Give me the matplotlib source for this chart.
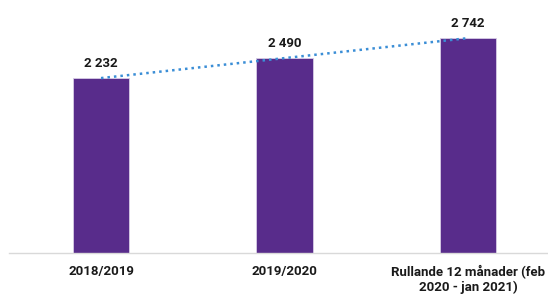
import matplotlib.pyplot as plt
import numpy as np

categories = ['2018/2019', '2019/2020', 'Rullande 12 månader (feb\n2020 - jan 2021)']
values = [2232, 2490, 2742]
value_labels = ['2 232', '2 490', '2 742']

plt.rcParams['font.family'] = ['Roboto', 'DejaVu Sans']

W, H = 548, 296
fig = plt.figure(figsize=(W / 100, H / 100), dpi=100)
# axes runs a bit past the right edge, like the cropped original
ax = fig.add_axes([9.25 / W, (H - 253) / H, 550.5 / W, (253 - 18) / H])

x = np.arange(len(categories))
ax.bar(x, values, width=0.31, color='#582C8B', edgecolor='#d8cce6', linewidth=0.6, zorder=2)

# linear trend line
k, m = np.polyfit(x, values, 1)
ax.plot(x, k * x + m, linestyle=(0, (1, 1.6)), color='#3B8ED6', linewidth=1.8, zorder=3)

for xi, v, lab in zip(x, values, value_labels):
    ax.annotate(lab, (xi, v), xytext=(0, 6), textcoords='offset points',
                ha='center', va='bottom', fontsize=9.5, fontweight='bold', color='#1a1a1a')

ax.set_xlim(-0.5, 2.5)
ax.set_ylim(0, 3000)
ax.set_xticks(x)
ax.set_xticklabels(categories, fontsize=9.5, fontweight='bold', color='#1a1a1a', linespacing=1.1)
ax.tick_params(axis='x', length=0, pad=9)
ax.set_yticks([])
for s in ['top', 'right', 'left']:
    ax.spines[s].set_visible(False)
ax.spines['bottom'].set_color('#d9d9d9')
ax.spines['bottom'].set_linewidth(1)

fig.savefig('out.png', dpi=100)
